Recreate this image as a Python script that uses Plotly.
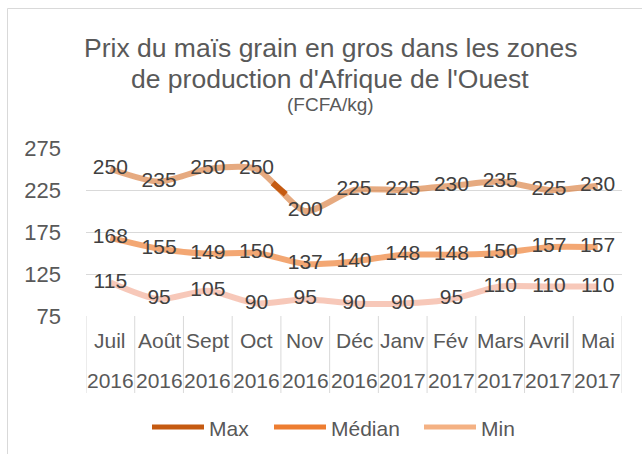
import plotly.graph_objects as go

months = ["Juil", "Août", "Sept", "Oct", "Nov", "Déc", "Janv", "Fév", "Mars", "Avril", "Mai"]
years = ["2016", "2016", "2016", "2016", "2016", "2016", "2017", "2017", "2017", "2017", "2017"]
max_vals = [250, 235, 250, 250, 200, 225, 225, 230, 235, 225, 230]
med_vals = [168, 155, 149, 150, 137, 140, 148, 148, 150, 157, 157]
min_vals = [115, 95, 105, 90, 95, 90, 90, 95, 110, 110, 110]
y_ticks = [75, 125, 175, 225, 275]

W, H = 642, 454
L, R, T, B = 86, 20, 148, 138
pw, ph = W - L - R, H - T - B

def px_x(x):
    return (x - L) / pw

def px_y(y):
    return (H - B - y) / ph

xs = list(range(len(months)))
font = "Liberation Sans, Arial, sans-serif"
lab_col = "#404040"
tick_col = "#595959"

fig = go.Figure()

series = [
    ("Max", max_vals, "rgba(214,118,50,0.62)", "#C55A11"),
    ("Médian", med_vals, "rgba(237,125,49,0.68)", "#ED7D31"),
    ("Min", min_vals, "rgba(244,177,155,0.7)", "#F4B183"),
]
for name, vals, plot_col, leg_col in series:
    fig.add_trace(go.Scatter(
        x=xs, y=vals, mode="lines", line=dict(color=plot_col, width=6, shape="spline", smoothing=0.7),
        showlegend=False, name=name, hoverinfo="skip"))

# darker highlighted portion of the Max line between Oct and Nov
i0 = months.index("Oct")
t0, t1 = 0.33, 0.6
seg_x = [xs[i0] + t0 * (xs[i0 + 1] - xs[i0]), xs[i0] + t1 * (xs[i0 + 1] - xs[i0])]
seg_y = [max_vals[i0] + t0 * (max_vals[i0 + 1] - max_vals[i0]),
         max_vals[i0] + t1 * (max_vals[i0 + 1] - max_vals[i0])]
fig.add_trace(go.Scatter(x=seg_x, y=seg_y, mode="lines",
                         line=dict(color="#C55A11", width=6),
                         showlegend=False, hoverinfo="skip"))

for name, vals, plot_col, leg_col in series:
    fig.add_trace(go.Scatter(
        x=xs, y=vals, mode="text", text=[str(v) for v in vals],
        textposition="middle center",
        textfont=dict(family=font, size=21, color=lab_col),
        showlegend=False, hoverinfo="skip"))

shapes = []
for k in range(len(months) + 1):
    shapes.append(dict(type="line", xref="x", yref="paper",
                       x0=k - 0.5, x1=k - 0.5, y0=0, y1=px_y(393),
                       line=dict(color="#D9D9D9", width=1)))
shapes.append(dict(type="line", xref="paper", yref="paper",
                   x0=px_x(7.5), x1=px_x(7.5), y0=px_y(8.5), y1=px_y(454),
                   line=dict(color="#D9D9D9", width=1)))
shapes.append(dict(type="line", xref="paper", yref="paper",
                   x0=px_x(7.5), x1=px_x(642), y0=px_y(8.5), y1=px_y(8.5),
                   line=dict(color="#D9D9D9", width=1)))

annotations = []
for i, (m, yr) in enumerate(zip(months, years)):
    annotations.append(dict(x=i, xref="x", y=px_y(340), yref="paper",
                            text=m, showarrow=False, yanchor="middle",
                            font=dict(family=font, size=21, color=tick_col)))
    annotations.append(dict(x=i, xref="x", y=px_y(380), yref="paper",
                            text=yr, showarrow=False, yanchor="middle",
                            font=dict(family=font, size=21, color=tick_col)))

# legend (drawn manually to match the original's long swatches)
leg_y = 427
leg_x = [150, 272, 422]
for (name, vals, plot_col, leg_col), x0 in zip(series, leg_x):
    shapes.append(dict(type="line", xref="paper", yref="paper",
                       x0=px_x(x0 + 2), x1=px_x(x0 + 54), y0=px_y(leg_y), y1=px_y(leg_y),
                       line=dict(color=leg_col, width=5)))
    annotations.append(dict(x=px_x(x0 + 57), xref="paper", y=px_y(leg_y + 1), yref="paper",
                            text=name, showarrow=False, xanchor="left", yanchor="middle",
                            font=dict(family=font, size=21, color=tick_col)))

title_lines = [
    ("Prix du maïs grain en gros dans les zones", 48, 26.5),
    ("de production d'Afrique de l'Ouest", 79, 26.5),
    ("(FCFA/kg)", 104, 19),
]
for txt, yy, sz in title_lines:
    annotations.append(dict(x=px_x(330), xref="paper", y=px_y(yy), yref="paper",
                            text=txt, showarrow=False, xanchor="center", yanchor="middle",
                            font=dict(family=font, size=sz, color=tick_col)))

fig.update_layout(
    width=W, height=H,
    margin=dict(l=L, r=R, t=T, b=B, pad=0),
    paper_bgcolor="white", plot_bgcolor="white",
    shapes=shapes, annotations=annotations,
    showlegend=False,
    xaxis=dict(range=[-0.5, len(months) - 0.5], showticklabels=False,
               showgrid=False, zeroline=False, showline=False, ticks="",
               fixedrange=True),
    yaxis=dict(range=[75, 275], tickvals=y_ticks, ticktext=[str(v) for v in y_ticks],
               showgrid=True, gridcolor="#D9D9D9", gridwidth=1, zeroline=False,
               showline=False, ticks="", ticklabelstandoff=24,
               tickfont=dict(family=font, size=22, color=tick_col), fixedrange=True),
)

fig.write_html("out.html", config={"displayModeBar": False},
               post_script="document.body.style.margin='0';")
